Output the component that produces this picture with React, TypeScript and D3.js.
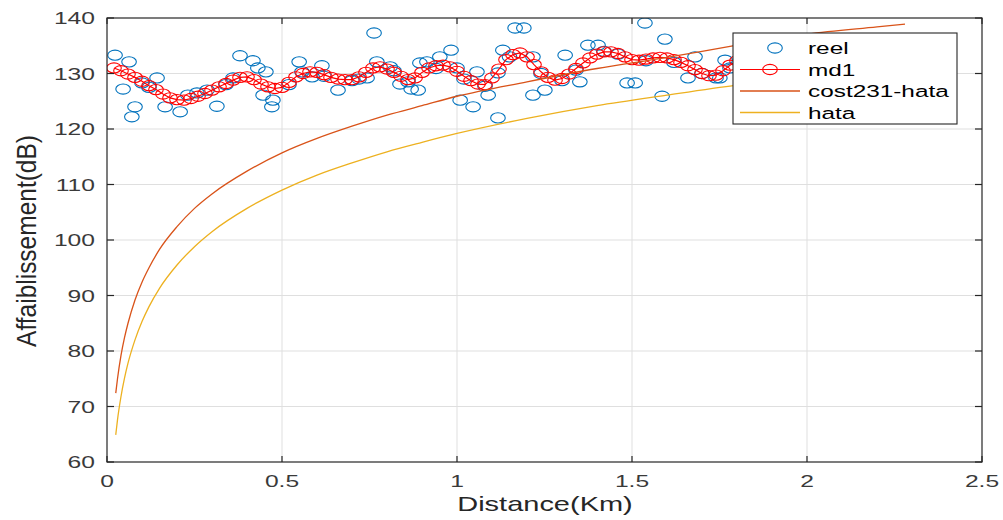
import React from "react";
import * as d3 from "d3";

// ---- data ----
const xTicks = [0, 0.5, 1, 1.5, 2, 2.5];
const xTickLabels = ["0", "0.5", "1", "1.5", "2", "2.5"];
const yTicks = [60, 70, 80, 90, 100, 110, 120, 130, 140];
const yTickLabels = ["60", "70", "80", "90", "100", "110", "120", "130", "140"];

const reelD = [
  0.023, 0.046, 0.063, 0.071, 0.08, 0.10, 0.12, 0.143, 0.166, 0.209, 0.231, 0.257, 0.286, 0.314,
  0.34, 0.36, 0.38, 0.417, 0.431, 0.446, 0.454, 0.471, 0.474, 0.52, 0.549, 0.557, 0.586, 0.614,
  0.62, 0.66, 0.70, 0.72, 0.743, 0.763, 0.771, 0.809, 0.82, 0.837, 0.86, 0.869, 0.889, 0.894,
  0.914, 0.94, 0.951, 0.983, 1.0, 1.009, 1.02, 1.046, 1.057, 1.08, 1.089, 1.117, 1.117, 1.131,
  1.15, 1.166, 1.191, 1.217, 1.217, 1.24, 1.251, 1.30, 1.309, 1.34, 1.351, 1.374, 1.403, 1.42,
  1.46, 1.486, 1.509, 1.537, 1.54, 1.586, 1.594, 1.62, 1.66, 1.68, 1.70, 1.74, 1.751, 1.766, 1.78,
];
const reelV = [
  133.3, 127.2, 132.1, 122.2, 124.0, 128.3, 127.5, 129.2, 124.0, 123.1, 126.1, 126.5, 127.0, 124.1,
  128.0, 129.2, 133.2, 132.3, 131.0, 126.1, 130.3, 124.0, 125.2, 128.0, 132.1, 130.3, 129.4, 131.4,
  129.5, 127.0, 128.7, 129.0, 129.2, 137.3, 132.1, 131.2, 130.5, 128.1, 128.5, 127.2, 127.0, 131.9,
  132.1, 130.9, 133.0, 134.2, 131.0, 125.2, 129.0, 124.0, 130.3, 127.7, 126.1, 122.0, 130.1, 134.2,
  133.0, 138.2, 138.2, 133.0, 126.1, 130.0, 127.0, 128.7, 133.3, 130.6, 128.5, 135.1, 135.1, 134.0,
  133.5, 128.3, 128.3, 139.1, 132.3, 125.9, 136.2, 132.0, 129.2, 133.0, 130.0, 129.2, 129.2, 132.4, 131.0,
];

const md1D = [
  0.02, 0.04, 0.06, 0.08, 0.10, 0.12, 0.14, 0.16, 0.18, 0.20, 0.22, 0.24, 0.26, 0.28, 0.30,
  0.32, 0.34, 0.36, 0.38, 0.40, 0.42, 0.44, 0.46, 0.48, 0.50, 0.52, 0.54, 0.56, 0.58, 0.60,
  0.62, 0.64, 0.66, 0.68, 0.70, 0.72, 0.74, 0.76, 0.78, 0.80, 0.82, 0.84, 0.86, 0.88, 0.90,
  0.92, 0.94, 0.96, 0.98, 1.00, 1.02, 1.04, 1.06, 1.08, 1.10, 1.12, 1.14, 1.16, 1.18, 1.20,
  1.22, 1.24, 1.26, 1.28, 1.30, 1.32, 1.34, 1.36, 1.38, 1.40, 1.42, 1.44, 1.46, 1.48, 1.50,
  1.52, 1.54, 1.56, 1.58, 1.60, 1.62, 1.64, 1.66, 1.68, 1.70, 1.72, 1.74, 1.76, 1.78, 1.80,
];
const md1V = [
  131.0, 130.5, 129.9, 129.3, 128.6, 127.8, 127.1, 126.3, 125.6, 125.3, 125.2, 125.5, 125.9, 126.4, 127.0,
  127.6, 128.2, 128.8, 129.3, 129.4, 128.9, 128.1, 127.6, 127.3, 127.5, 128.4, 129.4, 130.0, 130.3, 130.2,
  129.8, 129.3, 129.0, 128.9, 128.9, 129.4, 130.2, 131.0, 131.2, 130.8, 130.2, 129.5, 128.9, 129.2, 130.2,
  131.0, 131.4, 131.5, 131.2, 130.4, 129.5, 128.7, 128.1, 128.0, 129.2, 130.8, 132.5, 133.4, 133.7, 133.0,
  131.6, 130.3, 129.3, 128.8, 129.1, 129.9, 130.9, 131.9, 132.8, 133.5, 133.9, 133.9, 133.6, 133.0, 132.5,
  132.4, 132.6, 132.8, 132.9, 132.8, 132.5, 132.0, 131.4, 130.7, 130.0, 129.6, 129.7, 130.5, 131.5, 132.3,
];

const modelD = [
  0.025, 0.03, 0.04, 0.05, 0.06, 0.08, 0.10, 0.12, 0.15, 0.20, 0.25, 0.30, 0.40, 0.50,
  0.60, 0.70, 0.80, 0.90, 1.00, 1.20, 1.40, 1.60, 1.80, 2.00, 2.20, 2.28,
];
const cost231V = [
  72.4, 75.0, 79.2, 82.4, 85.0, 89.2, 92.4, 95.0, 98.3, 102.4, 105.7, 108.3, 112.4, 115.7,
  118.3, 120.5, 122.5, 124.2, 125.9, 128.5, 130.9, 132.9, 135.1, 137.1, 138.4, 138.9,
];
const hataV = [
  64.9, 67.6, 71.8, 75.1, 77.8, 82.0, 85.3, 88.0, 91.3, 95.5, 98.8, 101.5, 105.7, 109.0,
  111.7, 113.9, 115.9, 117.6, 119.2, 121.9, 124.2, 126.1, 127.9, 129.4, 130.8, 131.3,
];

const legendLabels = ["reel", "md1", "cost231-hata", "hata"];

// ---- styles ----
const W = 1003, H = 520;
const L = 107, R = 982, T = 18, B = 462;
const FONT = "'Liberation Sans', Arial, Helvetica, sans-serif";
const SX = 1.45;
const AX = "#262626";
const TICKC = "#3a3a3a";
const BLUE = "#0072BD", RED = "#FF0000", ORANGE = "#D95319", YELLOW = "#EDB120";
const RX = 7.3, RY = 5.1;

function Txt({ x, y, size, anchor = "start", children, fill = AX, dy = "0" }: any) {
  return (
    <text transform={`translate(${x},${y}) scale(${SX},1)`} fontSize={size} fontFamily={FONT}
      textAnchor={anchor} fill={fill} dy={dy}>
      {children}
    </text>
  );
}

export default function App() {
  const x = d3.scaleLinear().domain([0, 2.5]).range([L, R]);
  const y = d3.scaleLinear().domain([60, 140]).range([B, T]);

  const lineOf = (ds: number[], vs: number[], curve: any) =>
    d3.line<number>().x((_, i) => x(ds[i])).y((v) => y(v)).curve(curve)(vs) || "";

  const md1Path = lineOf(md1D, md1V, d3.curveLinear);
  const costPath = lineOf(modelD, cost231V, d3.curveMonotoneX);
  const hataPath = lineOf(modelD, hataV, d3.curveMonotoneX);

  const lg = { x: 733, y: 33, w: 224, h: 91 };
  const rows = [48, 69.5, 91, 112.5];

  return (
    <svg width={W} height={H} style={{ position: "absolute", left: 0, top: 0, background: "#fff" }}>
      <rect x={0} y={0} width={W} height={H} fill="#fff" />
      <defs>
        <clipPath id="plot"><rect x={L} y={T} width={R - L} height={B - T} /></clipPath>
      </defs>
      {/* grid */}
      {xTicks.slice(1, -1).map((t) => (
        <line key={"gx" + t} x1={x(t)} x2={x(t)} y1={T} y2={B} stroke="#dfdfdf" strokeWidth={1} />
      ))}
      {yTicks.slice(1, -1).map((t) => (
        <line key={"gy" + t} x1={L} x2={R} y1={y(t)} y2={y(t)} stroke="#dfdfdf" strokeWidth={1} />
      ))}

      <g clipPath="url(#plot)">
        {reelD.map((d, i) => (
          <ellipse key={"r" + i} cx={x(d)} cy={y(reelV[i])} rx={RX} ry={RY} fill="none" stroke={BLUE} strokeWidth={1.1} />
        ))}
        <path d={md1Path} fill="none" stroke={RED} strokeWidth={1.2} />
        {md1D.map((d, i) => (
          <ellipse key={"m" + i} cx={x(d)} cy={y(md1V[i])} rx={RX} ry={RY} fill="none" stroke={RED} strokeWidth={1.1} />
        ))}
        <path d={costPath} fill="none" stroke={ORANGE} strokeWidth={1.3} />
        <path d={hataPath} fill="none" stroke={YELLOW} strokeWidth={1.3} />
      </g>

      {/* box + ticks */}
      <rect x={L} y={T} width={R - L} height={B - T} fill="none" stroke={AX} strokeWidth={1.2} />
      {xTicks.map((t) => (
        <g key={"tx" + t}>
          <line x1={x(t)} x2={x(t)} y1={B} y2={B - 6} stroke={AX} strokeWidth={1.2} />
          <line x1={x(t)} x2={x(t)} y1={T} y2={T + 6} stroke={AX} strokeWidth={1.2} />
        </g>
      ))}
      {yTicks.map((t) => (
        <g key={"ty" + t}>
          <line x1={L} x2={L + 7} y1={y(t)} y2={y(t)} stroke={AX} strokeWidth={1.2} />
          <line x1={R} x2={R - 7} y1={y(t)} y2={y(t)} stroke={AX} strokeWidth={1.2} />
        </g>
      ))}
      {xTicks.map((t, i) => (
        <Txt key={"lx" + t} x={x(t)} y={487} size={17} anchor="middle" fill={TICKC}>{xTickLabels[i]}</Txt>
      ))}
      {yTicks.map((t, i) => (
        <Txt key={"ly" + t} x={95} y={y(t)} size={17} anchor="end" dy="0.36em" fill={TICKC}>{yTickLabels[i]}</Txt>
      ))}
      <Txt x={545} y={511} size={20} anchor="middle">Distance(Km)</Txt>
      <text transform={`translate(36,241) scale(1.12,1) rotate(-90)`} fontSize={24.5} fontFamily={FONT}
        textAnchor="middle" fill={AX}>Affaiblissement(dB)</text>

      {/* legend */}
      <rect x={lg.x} y={lg.y} width={lg.w} height={lg.h} fill="#fff" stroke={AX} strokeWidth={1.1} />
      <ellipse cx={775} cy={rows[0]} rx={RX} ry={RY} fill="none" stroke={BLUE} strokeWidth={1.1} />
      <line x1={740} x2={800} y1={rows[1]} y2={rows[1]} stroke={RED} strokeWidth={1.2} />
      <ellipse cx={770} cy={rows[1]} rx={RX} ry={RY} fill="none" stroke={RED} strokeWidth={1.1} />
      <line x1={740} x2={800} y1={rows[2]} y2={rows[2]} stroke={ORANGE} strokeWidth={1.3} />
      <line x1={740} x2={800} y1={rows[3]} y2={rows[3]} stroke={YELLOW} strokeWidth={1.3} />
      {legendLabels.map((s, i) => (
        <Txt key={s} x={808} y={rows[i]} size={16.8} dy="0.36em" fill="#000">{s}</Txt>
      ))}
    </svg>
  );
}
